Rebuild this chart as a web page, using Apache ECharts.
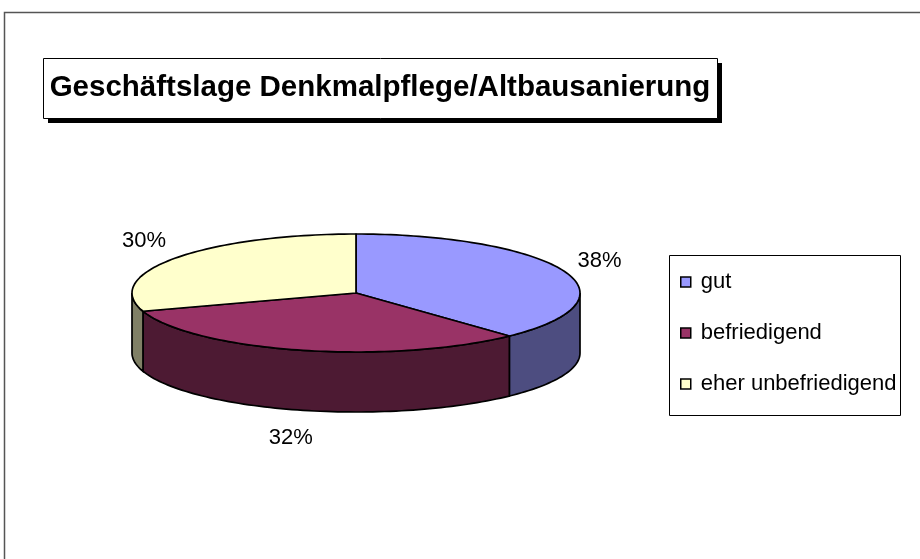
<!DOCTYPE html>
<html>
<head>
<meta charset="utf-8">
<script src="https://cdn.jsdelivr.net/npm/echarts@6/dist/echarts.min.js"></script>
<style>
  html, body { margin: 0; padding: 0; background: #fff; }
  #chart { width: 920px; height: 559px; }
</style>
</head>
<body>
<div id="chart"></div>
<script>
var titleText = "Geschäftslage Denkmalpflege/Altbausanierung";
var categories = ["gut", "befriedigend", "eher unbefriedigend"];
var values = [38, 32, 30];

var topColors = ["#9999FF", "#993366", "#FFFFCC"];
var sideColors = ["#4D4D80", "#4D1A33", "#808066"];
var fontFamily = "'Liberation Sans', Arial, sans-serif";

// pie geometry (ellipse top + wall depth)
var cx = 356, cy = 293, rx = 224, ry = 59, depth = 60;

function arcPoints(a0, a1, dy) {
  var pts = [];
  var n = Math.max(2, Math.ceil(Math.abs(a1 - a0) / (Math.PI / 120)));
  for (var k = 0; k <= n; k++) {
    var a = a0 + (a1 - a0) * k / n;
    pts.push([cx + rx * Math.cos(a), cy + ry * Math.sin(a) + dy]);
  }
  return pts;
}

function sliceItem(i) {
  return function (params, api) {
    var total = 0, start = 0;
    values.forEach(function (v, j) {
      total += v;
      if (j < i) start += v;
    });
    var a0 = -Math.PI / 2 + start / total * 2 * Math.PI;
    var a1 = a0 + api.value(0) / total * 2 * Math.PI;
    var children = [];

    // front walls
    [[0, Math.PI], [2 * Math.PI, 3 * Math.PI]].forEach(function (r) {
      var s = Math.max(a0, r[0]), e = Math.min(a1, r[1]);
      if (e > s) {
        children.push({
          type: "polygon",
          z2: 1,
          shape: { points: arcPoints(s, e, 0).concat(arcPoints(e, s, depth)) },
          style: { fill: sideColors[i], stroke: "#000", lineWidth: 1.7 }
        });
      }
    });

    // top face
    children.push({
      type: "polygon",
      z2: 2,
      shape: { points: [[cx, cy]].concat(arcPoints(a0, a1, 0)) },
      style: { fill: topColors[i], stroke: "#000", lineWidth: 1.7, lineJoin: "round" }
    });

    // percent label
    var mid = (a0 + a1) / 2;
    var c = Math.cos(mid), s = Math.sin(mid);
    children.push({
      type: "text",
      z2: 3,
      x: cx + (rx + 38) * c,
      y: cy + (ry + 29) * s + (s > 0 ? depth : 0),
      style: {
        text: Math.round(api.value(0) / total * 100) + "%",
        fill: "#000",
        font: "22px " + fontFamily,
        align: "center",
        verticalAlign: "middle"
      }
    });
    return { type: "group", children: children };
  };
}

var chart = echarts.init(document.getElementById("chart"));

chart.setOption({
  animation: false,
  backgroundColor: "#fff",
  legend: {
    orient: "vertical",
    left: 680,
    top: 271,
    padding: 0,
    itemWidth: 10,
    itemHeight: 10,
    itemGap: 29,
    icon: "rect",
    selectedMode: false,
    itemStyle: { borderColor: "#000", borderWidth: 1.5 },
    textStyle: { fontSize: 22, fontFamily: fontFamily, color: "#000", lineHeight: 22, padding: [0, 0, 0, 5] },
    data: categories
  },
  graphic: [
    {
      type: "rect",
      silent: true,
      shape: { x: 4.5, y: 12.5, width: 1000, height: 1000 },
      style: { fill: "none", stroke: "#555", lineWidth: 1.5 }
    },
    {
      type: "rect",
      silent: true,
      shape: { x: 48, y: 63, width: 674, height: 60 },
      style: { fill: "#000" }
    },
    {
      type: "rect",
      silent: true,
      shape: { x: 43.5, y: 58.5, width: 674, height: 60 },
      style: { fill: "#fff", stroke: "#000", lineWidth: 1 }
    },
    {
      type: "text",
      silent: true,
      x: 380,
      y: 88,
      style: {
        text: titleText,
        fill: "#000",
        font: "bold 29.5px " + fontFamily,
        align: "center",
        verticalAlign: "middle"
      }
    },
    {
      type: "rect",
      silent: true,
      shape: { x: 669.5, y: 255.5, width: 231, height: 160 },
      style: { fill: "#fff", stroke: "#000", lineWidth: 1 },
      z: -1
    }
  ],
  series: categories.map(function (name, i) {
    return {
      type: "custom",
      name: name,
      coordinateSystem: "none",
      itemStyle: { color: topColors[i] },
      renderItem: sliceItem(i),
      data: [[values[i]]]
    };
  })
});
</script>
</body>
</html>
